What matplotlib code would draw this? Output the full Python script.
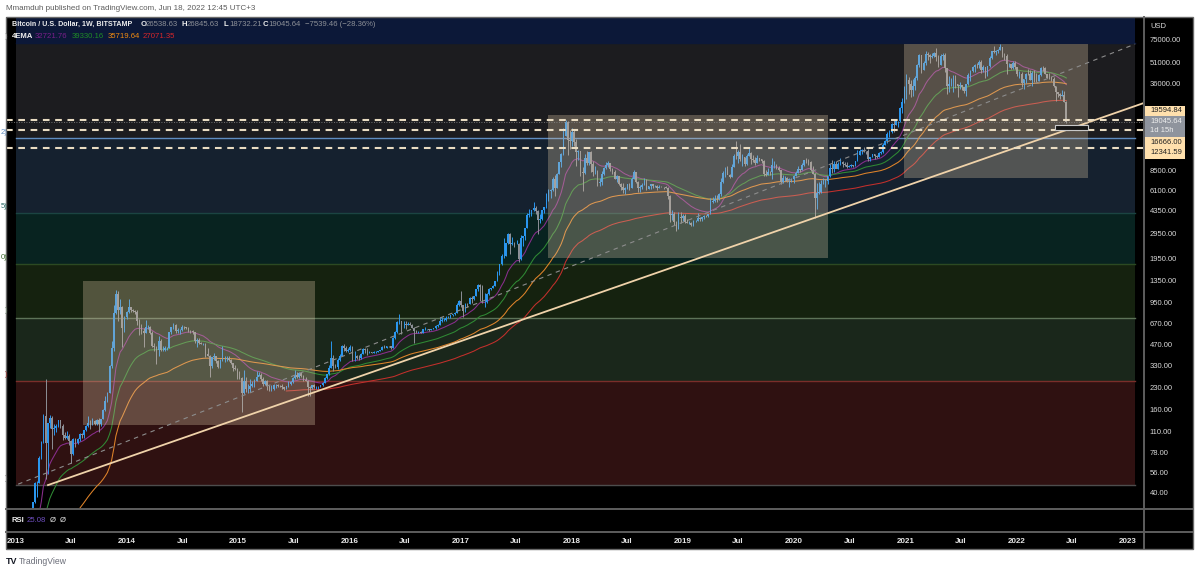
import matplotlib
matplotlib.use('Agg')
import matplotlib.pyplot as plt
import matplotlib.dates as mdates
from matplotlib.patches import Rectangle
from matplotlib.ticker import NullLocator, FixedLocator, FixedFormatter
import numpy as np
import pandas as pd
import datetime as dt

plt.rcParams['font.family'] = ['Liberation Sans', 'DejaVu Sans']

# ---------------- data: BTCUSD weekly (Bitstamp) ----------------
# weekly closes before the visible range, only used to seed the EMAs
warmup_start = '2011-08-15'
warmup_close = [11.0, 8.8, 8.2, 6.9, 5.3, 5.4, 5.0, 4.6, 4.0, 3.2, 3.3, 3.0, 3.0, 2.3, 2.5, 2.9,
                3.0, 3.2, 4.0, 4.7,
                6.8, 6.8, 6.3, 5.5, 5.8, 5.7, 4.3, 4.9, 4.8, 4.9, 5.3, 4.7, 4.9, 4.9, 4.9, 5.1,
                5.1, 5.1, 5.0, 5.1, 5.1, 5.2, 5.5, 6.3, 6.4, 6.7, 6.8, 7.6, 8.7, 8.9, 10.9, 11.4,
                11.8, 10.5, 10.1, 10.9, 11.8, 12.3, 12.4, 12.1, 11.8, 11.7, 10.8, 10.6, 10.8, 11.6,
                12.3, 12.5, 13.4, 13.4, 13.4, 13.5]

# (high, low, close) per week, first week starts 2012-12-31
w2013 = [(14.0, 13.2, 13.8), (14.6, 13.6, 14.2), (16.0, 14.0, 15.8), (18.0, 15.6, 17.6), (20.8, 17.0, 20.4),
         (22.5, 19.5, 22.3), (27.0, 22.0, 27.0), (30.0, 26.5, 30.0), (34.5, 29.0, 34.0), (48.0, 33.5, 46.9),
         (48.4, 37.0, 47.0), (74.0, 47.0, 71.5), (95.0, 70.0, 93.0), (147, 92, 142), (266, 50, 92),
         (128, 55, 127), (145, 118, 139), (144, 83, 115), (125, 105, 117), (125, 110, 122),
         (134, 120, 133), (134, 118, 121), (126, 96, 104), (110, 97, 99), (112, 98, 103),
         (106, 88, 94), (96, 66, 76), (100, 75, 98), (99, 86, 92), (99, 90, 97),
         (108, 95, 106), (108, 100, 104), (114, 100, 113), (124, 111, 122), (142, 120, 127),
         (135, 115, 125), (139, 124, 131), (133, 124, 126), (136, 123, 135), (139, 110, 125),
         (137, 122, 137), (160, 136, 158), (200, 155, 185), (215, 180, 210), (335, 210, 330),
         (500, 320, 440), (900, 420, 790), (1163, 780, 1080), (1150, 700, 830), (1000, 780, 870),
         (890, 450, 620), (760, 580, 740)]
w2014 = [(820, 720, 800), (1000, 790, 870), (880, 800, 830), (850, 800, 815), (840, 780, 810),
         (830, 650, 690), (720, 550, 630), (660, 560, 590), (620, 450, 570), (710, 570, 630),
         (650, 610, 630), (640, 560, 570), (590, 450, 460), (480, 420, 450), (460, 340, 430),
         (545, 390, 500), (515, 420, 430), (460, 420, 430), (455, 420, 440), (450, 430, 445),
         (580, 445, 575), (630, 560, 625), (670, 610, 655), (665, 565, 590), (615, 565, 595),
         (610, 560, 595), (650, 590, 630), (640, 610, 625), (630, 610, 620), (625, 580, 590),
         (600, 570, 585), (595, 560, 575), (580, 480, 500), (520, 450, 505), (520, 470, 480),
         (490, 470, 475), (485, 465, 477), (480, 380, 400), (440, 385, 390), (395, 275, 330),
         (380, 320, 380), (405, 365, 390), (390, 345, 355), (365, 320, 325), (370, 320, 365),
         (460, 360, 375), (390, 350, 375), (390, 360, 375), (385, 360, 365), (370, 340, 345),
         (345, 300, 320), (335, 310, 315)]
w2015 = [(320, 265, 275), (300, 265, 270), (275, 152, 210), (310, 205, 255), (275, 215, 225),
         (245, 210, 225), (265, 215, 235), (255, 232, 245), (265, 232, 255), (300, 255, 275),
         (297, 280, 285), (292, 255, 265), (275, 235, 245), (260, 240, 255), (262, 222, 235),
         (238, 216, 222), (238, 216, 226), (245, 220, 240), (245, 228, 241), (245, 232, 237),
         (240, 231, 235), (242, 225, 230), (232, 220, 225), (236, 223, 234), (255, 232, 245),
         (256, 240, 250), (275, 248, 270), (310, 265, 285), (295, 270, 275), (295, 270, 292),
         (298, 275, 280), (282, 258, 262), (272, 255, 258), (262, 200, 230), (235, 200, 228),
         (240, 225, 238), (245, 228, 231), (235, 225, 231), (235, 226, 233), (240, 233, 239),
         (250, 237, 247), (272, 246, 268), (290, 264, 286), (335, 285, 320), (500, 320, 375),
         (395, 300, 330), (340, 318, 324), (375, 315, 365), (400, 355, 390), (465, 388, 460),
         (470, 425, 440), (455, 415, 420), (440, 415, 430)]
w2016 = [(465, 425, 448), (460, 360, 385), (420, 355, 390), (395, 368, 378), (395, 365, 373),
         (405, 370, 402), (445, 400, 438), (440, 410, 432), (440, 395, 410), (420, 405, 412),
         (418, 405, 410), (420, 405, 416), (420, 410, 418), (425, 415, 420), (432, 420, 430),
         (455, 428, 452), (468, 440, 445), (462, 440, 458), (460, 448, 455), (455, 436, 442),
         (530, 440, 525), (590, 515, 578), (700, 570, 680), (780, 660, 690), (700, 555, 660),
         (700, 620, 660), (690, 610, 650), (680, 645, 665), (680, 650, 655), (660, 615, 620),
         (625, 480, 590), (600, 570, 570), (585, 565, 580), (585, 565, 570), (610, 565, 607),
         (630, 600, 608), (612, 600, 610), (610, 590, 600), (612, 595, 612), (620, 605, 617),
         (645, 610, 642), (660, 630, 655), (740, 650, 700), (740, 680, 705), (730, 690, 705),
         (750, 700, 735), (750, 725, 740), (770, 730, 765), (780, 755, 775), (800, 770, 795),
         (935, 790, 900), (980, 885, 970)]
w2017 = [(1150, 880, 905), (910, 740, 820), (930, 810, 920), (930, 880, 915), (1040, 915, 1020),
         (1060, 930, 1000), (1060, 990, 1050), (1190, 1050, 1180), (1280, 1140, 1265), (1290, 975, 1230),
         (1260, 940, 960), (1100, 880, 960), (1100, 940, 1080), (1210, 1070, 1180), (1210, 1160, 1200),
         (1260, 1195, 1245), (1350, 1240, 1345), (1600, 1340, 1540), (1800, 1500, 1780), (2100, 1750, 2050),
         (2760, 1980, 2060), (2560, 2050, 2520), (2990, 2480, 2950), (2980, 2120, 2500), (2790, 2470, 2540),
         (2600, 2360, 2510), (2650, 2480, 2510), (2550, 1840, 1930), (2900, 1920, 2750), (2820, 2430, 2860),
         (3280, 2650, 3260), (4180, 3260, 4050), (4470, 3900, 4090), (4400, 3950, 4380), (4980, 4300, 4580),
         (4700, 4100, 4330), (4400, 2970, 3700), (4120, 3550, 3790), (4380, 3740, 4360), (4620, 4160, 4610),
         (5850, 4580, 5700), (6180, 5110, 6000), (6250, 5400, 6150), (7600, 6040, 7400), (7900, 5500, 6350),
         (8100, 6300, 8000), (9780, 7950, 9700), (11400, 9000, 11100), (17200, 11000, 15000),
         (19666, 15000, 19000), (19400, 11000, 14000), (16500, 12100, 13800)]
w2018 = [(17250, 12800, 16200), (16500, 12800, 13700), (14400, 9200, 11500), (12000, 10050, 11750),
         (11700, 7700, 8200), (9000, 6000, 8100), (11200, 8000, 10400), (11790, 9300, 9600),
         (11550, 9350, 11500), (11700, 8330, 9500), (9950, 7690, 8200), (9180, 8000, 8400),
         (8500, 6560, 6940), (7500, 6530, 7040), (8400, 6640, 8050), (9000, 7900, 8900),
         (9750, 8700, 9350), (9990, 8970, 9650), (9650, 8350, 8700), (8880, 8000, 8230),
         (8500, 7300, 7350), (7800, 7050, 7700), (7750, 6650, 6750), (6880, 6160, 6450),
         (6830, 5800, 6150), (6470, 5780, 6350), (6800, 6250, 6750), (6830, 6080, 6350),
         (7600, 6330, 7400), (8500, 7350, 8200), (8250, 6900, 7000), (7150, 5900, 6300),
         (6620, 5880, 6450), (6900, 6250, 6700), (7420, 6670, 7280), (7410, 6100, 6240),
         (6580, 6200, 6500), (6800, 6260, 6720), (6770, 6380, 6600), (6670, 6460, 6600),
         (6650, 6100, 6370), (6660, 6290, 6450), (6500, 6390, 6410), (6480, 6250, 6390),
         (6530, 6300, 6350), (6400, 5300, 5550), (5600, 3580, 4020), (4400, 3700, 4140),
         (4240, 3450, 3610), (3640, 3120, 3200), (4230, 3200, 3900), (4220, 3550, 3820)]
w2019 = [(4090, 3640, 4010), (4100, 3560, 3610), (3780, 3520, 3550), (3640, 3510, 3550),
         (3600, 3370, 3420), (3700, 3390, 3650), (3700, 3570, 3650), (4190, 3670, 3860),
         (3920, 3680, 3810), (3940, 3690, 3890), (4040, 3810, 4000), (4060, 3930, 3980),
         (4120, 3930, 4110), (5340, 4100, 5050), (5470, 4920, 5070), (5630, 5030, 5320),
         (5630, 5050, 5260), (5840, 5200, 5770), (7450, 5580, 7000), (8380, 6930, 8150),
         (8950, 7550, 8730), (9080, 8050, 7800), (8000, 7450, 7650), (9400, 7600, 9000),
         (11200, 8990, 10850), (13880, 10300, 10750), (12000, 9630, 11450), (13200, 9850, 10200),
         (11100, 9070, 10600), (10650, 9100, 9500), (11150, 9350, 10800), (12330, 10800, 11300),
         (11460, 9450, 10200), (10950, 9840, 10150), (10600, 9360, 9600), (10900, 9600, 10400),
         (10460, 9860, 10300), (10340, 9600, 10000), (10080, 7700, 8050), (8500, 7760, 7880),
         (8800, 7840, 8280), (8420, 7900, 8240), (10500, 7300, 9250), (9930, 8900, 9300),
         (9500, 8700, 8800), (9100, 8400, 8500), (8500, 6800, 7050), (7900, 6850, 7420),
         (7750, 7160, 7520), (7590, 6950, 7100), (7520, 6430, 7330), (7520, 7050, 7390)]
w2020 = [(7800, 6860, 7750), (8450, 7680, 8180), (9190, 8150, 8700), (8750, 8250, 8600),
         (9600, 8580, 9350), (10150, 9120, 10150), (10500, 9650, 9900), (10270, 9300, 9700),
         (9970, 8420, 8530), (9180, 8000, 8050), (8170, 3850, 5350), (6900, 4450, 5820),
         (6970, 5700, 5880), (7200, 5860, 6770), (7470, 6770, 6910), (7300, 6460, 7130),
         (7740, 6800, 7700), (9470, 7620, 8900), (10070, 8100, 8720), (9950, 8200, 9380),
         (9900, 8800, 8720), (9750, 8620, 9450), (10420, 9250, 9680), (9990, 8930, 9450),
         (9790, 9200, 9300), (9780, 8850, 9000), (9310, 8930, 9070), (9470, 9050, 9300),
         (9340, 9040, 9170), (9990, 9130, 9930), (12000, 9900, 11050), (12080, 10960, 11680),
         (12120, 11150, 11900), (12460, 11520, 11660), (11780, 11100, 11650), (12080, 9880, 10250),
         (10650, 9870, 10660), (11180, 10630, 11080), (11180, 10200, 10750), (10950, 10400, 10670),
         (11500, 10530, 11380), (11730, 11200, 11500), (13350, 11400, 13030), (14100, 12900, 13780),
         (15960, 13300, 15460), (16480, 14800, 15960), (18800, 15900, 18400), (19500, 16200, 18180),
         (19920, 18100, 19150), (19400, 17600, 19150), (24300, 19000, 23830), (28400, 21900, 26500),
         (34800, 26000, 33000)]
w2021 = [(41950, 27700, 38200), (40100, 30400, 35800), (37850, 28800, 32250), (38500, 29200, 34300),
         (40900, 32300, 39200), (49700, 37900, 48600), (58350, 47000, 57400), (57500, 43000, 45150),
         (52600, 44900, 51000), (61700, 49300, 59000), (61100, 53300, 57400), (58500, 50300, 55800),
         (60000, 54600, 57100), (61200, 55500, 59800), (64900, 52000, 56200), (57500, 47000, 49100),
         (58400, 48800, 56600), (59400, 53000, 58200), (59600, 43800, 46400), (46600, 30000, 34700),
         (40800, 31000, 35600), (39500, 34600, 35800), (41300, 31000, 39000), (41300, 33300, 35600),
         (35700, 28800, 34500), (36600, 32700, 35300), (35100, 32100, 34200), (34200, 30900, 31800),
         (35000, 29300, 35400), (42600, 35200, 41500), (44800, 37600, 44600), (48100, 43800, 47000),
         (49400, 43900, 49300), (50500, 46300, 48800), (52900, 46500, 51800), (52800, 42800, 45000),
         (48800, 43300, 47300), (47200, 39600, 42800), (48500, 40800, 48200), (56500, 47100, 54700),
         (62000, 53800, 61500), (67000, 59700, 61000), (63000, 58000, 61300), (63900, 59400, 63300),
         (69000, 62300, 65500), (66300, 55700, 58600), (59300, 53300, 57200), (59100, 42000, 49400),
         (51000, 47300, 50100), (49500, 45600, 46700), (51900, 45600, 50800), (52100, 45700, 47300)]
w2022 = [(47600, 40500, 41800), (44400, 39700, 41900), (43500, 34000, 36300), (38900, 32900, 38500),
         (42700, 36300, 42400), (45900, 41700, 42200), (44800, 38000, 38400), (44000, 34300, 43200),
         (45400, 37200, 38400), (42500, 37200, 37800), (42400, 37600, 41300), (47000, 40500, 46800),
         (48200, 44000, 46400), (47200, 42000, 42150), (42400, 39200, 39700), (42900, 38500, 39400),
         (40800, 37700, 38500), (40000, 33700, 34300), (34300, 26700, 31300), (31300, 28600, 30300),
         (30600, 28000, 29450), (32300, 29300, 29900), (31700, 26550, 26538.63),
         (26845.63, 18732.21, 19045.64)]

ema_lengths = [20, 50, 100, 200]
ema_colors = ['#8a2e8e', '#2f8a34', '#e0842a', '#c4302c']

# horizontal levels and zones
levels = [19594.84, 16666.00, 12341.59]
last_price = 19045.64
zone_edges = [45.4, 256, 733, 1778, 4155, 14450, 70500, 200000]
zone_fill = ['#2f1111', '#1a271b', '#15220f', '#082320', '#15212f', '#1c1c1f', '#0c1838']
zone_line = ['#4d4d4d', '#7a2e2a', '#5d7358', '#2c4a22', '#1b4442', '#5f8cbf', '#0c1838', '#0c1838']

y_ticks = [75000, 51000, 36000, 8500, 6100, 4350, 2950, 1950, 1350, 950, 670, 470, 330, 230,
           160, 110, 78, 56, 40]

# ---------------- prepare ----------------
weeks = w2013 + w2014 + w2015 + w2016 + w2017 + w2018 + w2019 + w2020 + w2021 + w2022
high = np.array([w[0] for w in weeks], float)
low = np.array([w[1] for w in weeks], float)
close = np.array([w[2] for w in weeks], float)
opn = np.concatenate([[warmup_close[-1]], close[:-1]])
dates = mdates.date2num(pd.date_range('2012-12-31', periods=len(weeks), freq='7D').to_pydatetime())

all_close = np.concatenate([warmup_close, close])
all_dates = mdates.date2num(pd.date_range(warmup_start, periods=len(all_close), freq='7D').to_pydatetime())


def ema(vals, n):
    out = np.full(len(vals), np.nan)
    a = 2.0 / (n + 1)
    out[n - 1] = np.mean(vals[:n])
    for i in range(n, len(vals)):
        out[i] = a * vals[i] + (1 - a) * out[i - 1]
    return out


def d(s):
    return mdates.date2num(dt.datetime.strptime(s, '%Y-%m-%d'))


# ---------------- figure ----------------
W, H = 1200, 573
fig = plt.figure(figsize=(12, 5.73), dpi=100)
fig.patch.set_facecolor('white')


def fx(x):
    return x / W


def fy(y):
    return 1 - y / H


def box_px(x0, y0, x1, y1, **kw):
    fig.add_artist(Rectangle((fx(x0), fy(y1)), fx(x1) - fx(x0), fy(y0) - fy(y1),
                             transform=fig.transFigure, **kw))


def line_px(x0, y0, x1, y1, **kw):
    fig.add_artist(plt.Line2D([fx(x0), fx(x1)], [fy(y0), fy(y1)], transform=fig.transFigure, **kw))


box_px(6, 17, 1193, 549, facecolor='black', edgecolor='none', zorder=0)

ax = fig.add_axes([fx(6), fy(509), fx(1143) - fx(6), fy(17) - fy(509)])
ax.set_facecolor('black')
ax.set_yscale('log')
ax.set_ylim(30.5, 108700)
xl = (d('2012-11-29'), d('2023-02-20'))
ax.set_xlim(*xl)
for s in ax.spines.values():
    s.set_visible(False)

# zones
z0, z1 = d('2013-01-01'), d('2023-01-24')
for i in range(len(zone_fill)):
    ax.add_patch(Rectangle((z0, zone_edges[i]), z1 - z0, zone_edges[i + 1] - zone_edges[i],
                           facecolor=zone_fill[i], edgecolor='none', zorder=1))
for i in range(len(zone_edges) - 1):
    ax.plot([z0, z1], [zone_edges[i], zone_edges[i]], color=zone_line[i], lw=1.0, zorder=1.2)

# EMAs
for n, c in zip(ema_lengths, ema_colors):
    ax.plot(all_dates, ema(all_close, n), color=c, lw=0.75, zorder=2)

# candles
up = close >= opn
col = np.where(up, '#2a96ee', '#8d9097')
ax.vlines(dates, low, high, colors=col, lw=0.7, zorder=2.5)
ax.bar(dates, np.abs(close - opn), bottom=np.minimum(opn, close), width=5.3,
       color=col, linewidth=0, zorder=2.6)

# translucent boxes
for (a, b, lo, hi) in [('2013-08-09', '2015-09-10', 123, 1350),
                       ('2017-10-15', '2020-04-21', 1966, 21300),
                       ('2020-12-26', '2022-08-23', 7430, 69300)]:
    ax.add_patch(Rectangle((d(a), lo), d(b) - d(a), hi - lo, facecolor='#dcc6a6',
                           alpha=0.31, edgecolor='none', zorder=3))

# trend lines
ax.plot([d('2013-04-16'), d('2023-02-20')], [45.4, 25900], color='#f0d3aa', lw=1.3, zorder=4)
ax.plot([d('2013-01-08'), d('2023-01-25')], [46.1, 69300], color='#8c8c8c', lw=0.8,
        linestyle=(0, (4, 4)), zorder=4)

# horizontal levels
for lv in levels:
    ax.axhline(lv, color='#e9dcc2', lw=1.5, linestyle=(0, (3.2, 2.7)), zorder=4.2)
ax.axhline(last_price, color='#8a8a8a', lw=0.6, linestyle=(0, (1, 2)), zorder=4.1)
ax.add_patch(Rectangle((d('2022-05-07'), 16600), d('2022-08-23') - d('2022-05-07'), 18040 - 16600,
                       facecolor='#151515', edgecolor='#c8c8c8', lw=0.8, zorder=5))

# right price scale
ax.yaxis.tick_right()
ax.yaxis.set_minor_locator(NullLocator())
ax.yaxis.set_major_locator(FixedLocator(y_ticks))
ax.yaxis.set_major_formatter(FixedFormatter(['%.2f' % v for v in y_ticks]))
ax.tick_params(axis='y', length=0, pad=5, labelsize=5.5, labelcolor='#d9d9d9')
ax.tick_params(axis='x', length=0, labelbottom=False)

# RSI pane used for the time scale
rsi = fig.add_axes([fx(6), fy(532), fx(1143) - fx(6), fy(509) - fy(532)], sharex=ax)
rsi.set_facecolor('black')
for s in rsi.spines.values():
    s.set_visible(False)
rsi.set_yticks([])
tick_dates, tick_labels = [], []
for yr in range(2013, 2024):
    tick_dates += [mdates.date2num(dt.datetime(yr, 1, 1)), mdates.date2num(dt.datetime(yr, 7, 1))]
    tick_labels += [str(yr), 'Jul']
rsi.xaxis.set_major_locator(FixedLocator(tick_dates))
rsi.xaxis.set_major_formatter(FixedFormatter(tick_labels))
rsi.xaxis.set_minor_locator(NullLocator())
rsi.tick_params(axis='x', length=0, pad=4.5, labelsize=5.8, labelcolor='#e6e6e6')
for t in rsi.get_xticklabels():
    t.set_fontweight('bold')
rsi.set_xlim(*xl)

# panel separators and border
sep = dict(color='#5e5e5e', lw=1.4, zorder=10)
line_px(6, 509, 1193, 509, **sep)
line_px(6, 532, 1193, 532, **sep)
line_px(1144, 17, 1144, 549, **sep)
box_px(6, 17, 1193, 549, facecolor='none', edgecolor='#6a6a6a', lw=1.0, zorder=10)

# header texts
hdr = dict(fontsize=5.6, va='center', ha='left', zorder=11)
fig.text(fx(6), fy(9), 'Mmamduh published on TradingView.com, Jun 18, 2022 12:45 UTC+3',
         color='#5c5c5c', fontsize=5.8, va='center', ha='left')
fig.text(fx(12), fy(24), 'Bitcoin / U.S. Dollar, 1W, BITSTAMP', color='#ececec', fontweight='bold',
         fontsize=5.15, va='center', ha='left', zorder=11)
for lab, x0, val, x1 in [('O', 141, '26538.63', 146), ('H', 182, '26845.63', 187),
                         ('L', 224, '18732.21', 229), ('C', 263, '19045.64', 268)]:
    fig.text(fx(x0), fy(24), lab, color='#ececec', fontweight='bold', **hdr)
    fig.text(fx(x1), fy(24), val, color='#8d9097', **hdr)
fig.text(fx(305), fy(24), '\u22127539.46 (\u221228.36%)', color='#8d9097', **hdr)
fig.text(fx(12), fy(37), '4EMA', color='#ececec', fontweight='bold', **hdr)
for val, x0, c in [('32721.76', 35, '#7a1f8a'), ('39330.16', 72, '#1f8c27'),
                   ('35719.64', 108, '#f08a10'), ('27071.35', 143, '#d8262a')]:
    fig.text(fx(x0), fy(37), val, color=c, **hdr)

# cut-off zone labels at the left edge
for s, yy, c in [(')', 37, '#aaaaaa'), ('2)', 133, '#5f8cbf'), ('5)', 206, '#2a6a66'),
                 ('0)', 258, '#3d6a2e'), (')', 311, '#7d917a'), (')', 375, '#9a3a34'),
                 (')', 479, '#7a7a7a')]:
    fig.text(fx(8), fy(yy), s, color=c, fontsize=5.6, va='center', ha='right', zorder=11)

# RSI legend
fig.text(fx(11), fy(520), 'RSI', color='#ececec', fontweight='bold', **hdr)
fig.text(fx(27), fy(520), '25.08', color='#6f4fc0', **hdr)
fig.text(fx(50), fy(520), '\u00d8', color='#ececec', **hdr)
fig.text(fx(60), fy(520), '\u00d8', color='#ececec', **hdr)

# price scale extras
fig.text(fx(1150), fy(26), 'USD', color='#d9d9d9', fontsize=5.5, va='center', ha='left', zorder=11)
box_px(1145, 106, 1185, 115.7, facecolor='#ffe0ad', edgecolor='none', zorder=11)
box_px(1145, 115.7, 1185, 136.7, facecolor='#8f949d', edgecolor='none', zorder=11)
box_px(1145, 136.7, 1185, 159, facecolor='#ffe0ad', edgecolor='none', zorder=11)
pl = dict(fontsize=5.5, va='center', ha='left', zorder=12)
fig.text(fx(1150), fy(111), '19594.84', color='#222222', **pl)
fig.text(fx(1150), fy(121.5), '19045.64', color='#eeeeee', **pl)
fig.text(fx(1150), fy(131), '1d 15h', color='#eeeeee', **pl)
fig.text(fx(1150), fy(142.5), '16666.00', color='#222222', **pl)
fig.text(fx(1150), fy(153), '12341.59', color='#222222', **pl)

# footer logo
fig.text(fx(6), fy(562), 'TV', color='#131722', fontsize=6.5, fontweight='heavy', va='center', ha='left')
fig.text(fx(19), fy(562), 'TradingView', color='#6a6d78', fontsize=6.2, va='center', ha='left')

fig.savefig('out.png', dpi=100, facecolor=fig.get_facecolor())
